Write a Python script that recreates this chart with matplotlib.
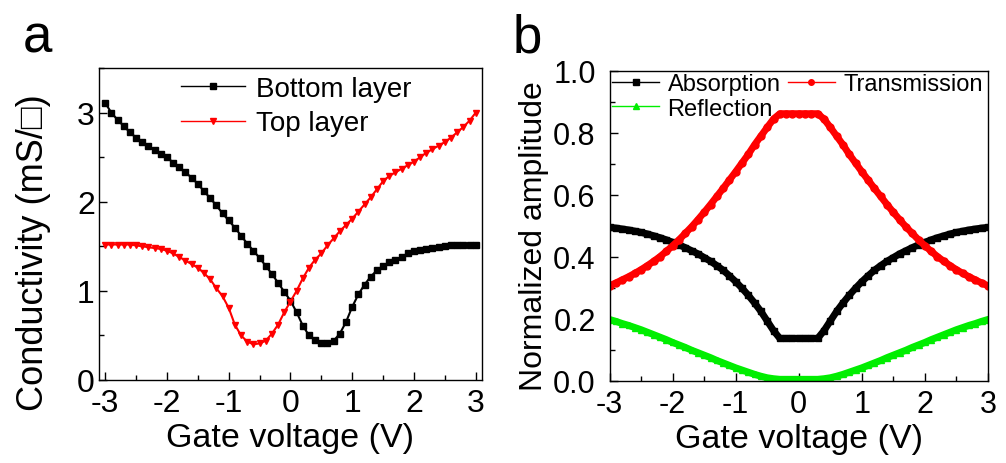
import numpy as np
import matplotlib
matplotlib.use("Agg")
import matplotlib.pyplot as plt
from matplotlib.ticker import MultipleLocator, FormatStrFormatter

plt.rcParams['font.family'] = ['Liberation Sans', 'DejaVu Sans']
plt.rcParams['axes.unicode_minus'] = False

# panel a: sheet conductivity vs gate voltage
vg_a = np.round(np.arange(-3.0, 3.01, 0.1), 2)
bottom_layer = [3.11, 3.00, 2.92, 2.85, 2.78, 2.72, 2.67, 2.63, 2.58, 2.54,
                2.50, 2.44, 2.39, 2.33, 2.27, 2.20, 2.12, 2.04, 1.96, 1.87,
                1.79, 1.71, 1.62, 1.53, 1.45, 1.37, 1.28, 1.19, 1.09, 0.99,
                0.89, 0.76, 0.61, 0.50, 0.45, 0.42, 0.41, 0.44, 0.52, 0.65,
                0.82, 0.96, 1.07, 1.16, 1.23, 1.28, 1.32, 1.35, 1.38, 1.42,
                1.45, 1.46, 1.47, 1.48, 1.49, 1.50, 1.51, 1.52, 1.52, 1.52, 1.52]
top_layer = [1.52, 1.52, 1.52, 1.52, 1.52, 1.51, 1.50, 1.49, 1.48, 1.47,
             1.45, 1.42, 1.38, 1.34, 1.30, 1.26, 1.20, 1.13, 1.03, 0.94,
             0.81, 0.62, 0.50, 0.43, 0.40, 0.41, 0.44, 0.52, 0.62, 0.76,
             0.88, 1.00, 1.14, 1.26, 1.35, 1.42, 1.51, 1.59, 1.67, 1.74,
             1.81, 1.89, 1.97, 2.05, 2.14, 2.23, 2.29, 2.33, 2.37, 2.41,
             2.45, 2.50, 2.55, 2.59, 2.63, 2.67, 2.72, 2.78, 2.84, 2.91, 3.00]

# panel b: normalized amplitudes
vg_b = np.round(np.arange(-3.0, 3.01, 0.1), 2)
absorption = [0.495, 0.493, 0.490, 0.487, 0.483, 0.479, 0.474, 0.468, 0.462, 0.455,
              0.447, 0.439, 0.430, 0.420, 0.410, 0.398, 0.386, 0.372, 0.357, 0.339,
              0.320, 0.299, 0.276, 0.251, 0.224, 0.193, 0.162, 0.137, 0.137, 0.137,
              0.137, 0.137, 0.137, 0.137, 0.162, 0.193, 0.224, 0.251, 0.276, 0.299,
              0.320, 0.339, 0.357, 0.372, 0.386, 0.398, 0.410, 0.420, 0.430, 0.439,
              0.447, 0.455, 0.462, 0.468, 0.474, 0.479, 0.483, 0.487, 0.490, 0.493, 0.495]
transmission = [0.307, 0.316, 0.326, 0.336, 0.347, 0.359, 0.372, 0.386, 0.401, 0.418,
                0.436, 0.455, 0.476, 0.497, 0.520, 0.544, 0.569, 0.595, 0.621, 0.648,
                0.675, 0.703, 0.731, 0.762, 0.790, 0.818, 0.845, 0.862, 0.862, 0.862,
                0.862, 0.862, 0.862, 0.862, 0.845, 0.818, 0.790, 0.762, 0.731, 0.703,
                0.675, 0.648, 0.621, 0.595, 0.569, 0.544, 0.520, 0.497, 0.476, 0.455,
                0.436, 0.418, 0.401, 0.386, 0.372, 0.359, 0.347, 0.336, 0.326, 0.316, 0.307]
reflection = [0.198, 0.192, 0.185, 0.179, 0.172, 0.165, 0.157, 0.149, 0.141, 0.133,
              0.124, 0.116, 0.108, 0.099, 0.091, 0.083, 0.075, 0.066, 0.058, 0.050,
              0.042, 0.035, 0.028, 0.021, 0.015, 0.010, 0.007, 0.005, 0.005, 0.005,
              0.005, 0.005, 0.005, 0.005, 0.007, 0.010, 0.015, 0.021, 0.028, 0.035,
              0.042, 0.050, 0.058, 0.066, 0.075, 0.083, 0.091, 0.099, 0.108, 0.116,
              0.124, 0.133, 0.141, 0.149, 0.157, 0.165, 0.172, 0.179, 0.185, 0.192, 0.198]

fig = plt.figure(figsize=(10.06, 4.64), dpi=100)
ax1 = fig.add_axes([0.0984, 0.179, 0.3806, 0.672])
ax2 = fig.add_axes([0.606, 0.177, 0.376, 0.668])

for ax in (ax1, ax2):
    ax.tick_params(which='both', direction='in', top=False, right=False)
    ax.tick_params(which='major', length=6, width=1)
    ax.tick_params(which='minor', length=3.5, width=1)
    for s in ax.spines.values():
        s.set_linewidth(1.0)

# panel a
ax1.plot(vg_a, bottom_layer, color='black', marker='s', ms=4, lw=1.5, label='Bottom layer')
ax1.plot(vg_a, top_layer, color='red', marker='v', ms=5, lw=1.5, label='Top layer')
ax1.set_xlim(-3.1, 3.1)
ax1.set_ylim(0, 3.5)
ax1.xaxis.set_major_locator(MultipleLocator(1))
ax1.xaxis.set_minor_locator(MultipleLocator(0.5))
ax1.yaxis.set_major_locator(MultipleLocator(1))
ax1.yaxis.set_minor_locator(MultipleLocator(0.5))
ax1.tick_params(which='major', labelsize=23)
ax1.tick_params(axis='y', which='major', pad=3)
ax1.tick_params(axis='x', which='major', pad=6)
ax1.set_xlabel('Gate voltage (V)', fontsize=24.5, labelpad=3)
ax1.set_ylabel('Conductivity (mS/\u25a1)', fontsize=26)
ax1.yaxis.set_label_coords(-0.125, 0.41)
leg1 = ax1.legend(loc='upper left', bbox_to_anchor=(0.215, 0.975), frameon=False,
                  fontsize=20, handlelength=2.3, labelspacing=0.3, handletextpad=0.4,
                  borderaxespad=0, borderpad=0)
for h in leg1.legend_handles:
    h.set_linewidth(1)

# panel b
la, = ax2.plot(vg_b, absorption, color='black', marker='s', ms=5, lw=5, label='Absorption')
lt, = ax2.plot(vg_b, transmission, color='red', marker='o', ms=5, lw=5, label='Transmission')
lr, = ax2.plot(vg_b, reflection, color='#00ee00', marker='^', ms=5, lw=5, label='Reflection')
ax2.set_xlim(-3, 3)
ax2.set_ylim(0, 1.0)
ax2.xaxis.set_major_locator(MultipleLocator(1))
ax2.xaxis.set_minor_locator(MultipleLocator(0.5))
ax2.yaxis.set_major_locator(MultipleLocator(0.2))
ax2.yaxis.set_minor_locator(MultipleLocator(0.1))
ax2.yaxis.set_major_formatter(FormatStrFormatter('%.1f'))
ax2.tick_params(which='major', labelsize=22)
ax2.tick_params(axis='y', which='major', pad=10)
ax2.tick_params(axis='x', which='major', pad=6)
ax2.set_xlabel('Gate voltage (V)', fontsize=24.5, labelpad=3)
ax2.set_ylabel('Normalized amplitude', fontsize=23)
ax2.yaxis.set_label_coords(-0.16, 0.47)
leg = ax2.legend([la, lr, lt], ['Absorption', 'Reflection', 'Transmission'],
                 loc='upper left', ncol=2, frameon=False, fontsize=17,
                 handlelength=2.0, columnspacing=0.3, labelspacing=0.1,
                 handletextpad=0.35, borderaxespad=0.05, borderpad=0.05)
for h in leg.legend_handles:
    h.set_linewidth(1)
    h.set_markersize(4)

fig.text(0.037, 0.918, 'a', fontsize=38, ha='center', va='center')
fig.text(0.524, 0.918, 'b', fontsize=38, ha='center', va='center')

fig.savefig('out.png', dpi=100)
